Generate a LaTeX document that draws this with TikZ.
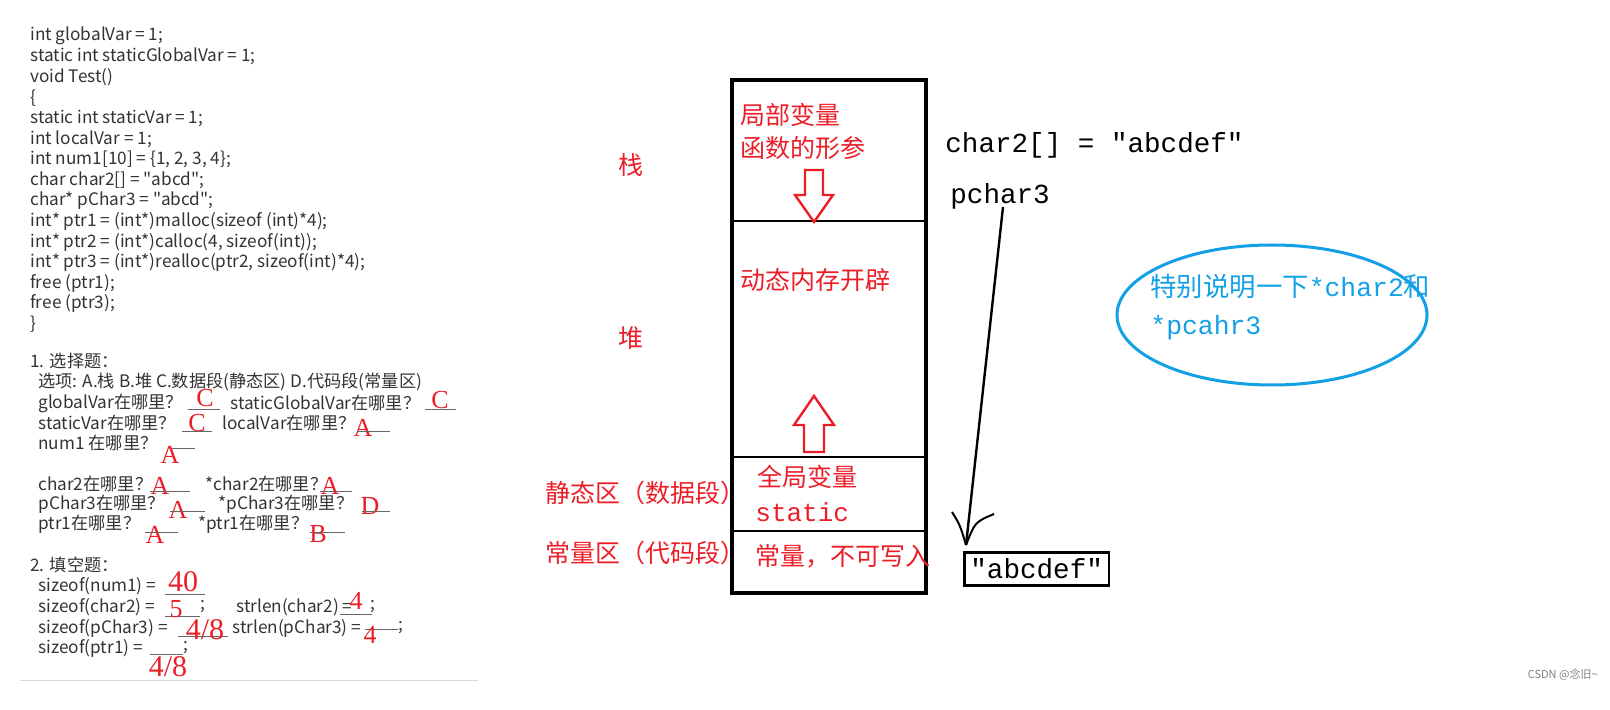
\documentclass[tikz,border=0pt]{standalone}
\usepackage{fontspec}
\setmainfont{Noto Sans CJK SC}
\newfontfamily\cjk{Noto Sans CJK SC}
\newfontfamily\hand{Liberation Serif}
\newfontfamily\mono{Liberation Mono}
\definecolor{hred}{RGB}{235,30,40}
\definecolor{hblue}{RGB}{20,160,230}
\begin{document}
\begin{tikzpicture}[x=0.5pt,y=-0.5pt,
  code/.style={anchor=west,inner sep=0,font=\cjk\fontsize{8.6}{9}\selectfont,text=black!80},
  ans/.style={inner sep=0,font=\hand\fontsize{13}{14}\selectfont,text=hred},
  rt/.style={anchor=west,inner sep=0,font=\cjk\fontsize{12.5}{14}\selectfont,text=hred},
  bk/.style={anchor=west,inner sep=0,font=\mono\fontsize{13.8}{15}\selectfont,text=black},
  hollow/.style={draw=hred,line width=1.2pt,fill=white}]
\useasboundingbox (0,0) rectangle (1610,710);
% code
\foreach \t [count=\i from 0] in {int globalVar = 1;,static int staticGlobalVar = 1;,void Test(),\{,static int staticVar = 1;,int localVar = 1;,{int num1[10] = \{1, 2, 3, 4\};},char char2[] = "abcd";,char* pChar3 = "abcd";,int* ptr1 = (int*)malloc(sizeof (int)*4);,{int* ptr2 = (int*)calloc(4, sizeof(int));},{int* ptr3 = (int*)realloc(ptr2, sizeof(int)*4);},free (ptr1);,free (ptr3);,\}}
  \node[code] (c\i) at (30,{36+20.6*\i}) {\t};
\node[code] (q1) at (30,361) {1. 选择题：};
\node[code] (q2) at (38,382) {选项: A.栈 B.堆 C.数据段(静态区) D.代码段(常量区)};
\node[code] (q3) at (38,403) {globalVar在哪里？};
\node[code] (q3b) at (230,403) {staticGlobalVar在哪里？};
\node[code] (q4) at (38,423) {staticVar在哪里？};
\node[code] (q4b) at (222,423) {localVar在哪里？};
\node[code] (q5) at (38,443) {num1 在哪里？};
\node[code] (q6) at (38,484) {char2在哪里？};
\node[code] (q6b) at (205,484) {*char2在哪里？};
\node[code] (q7) at (38,504) {pChar3在哪里？};
\node[code] (q7b) at (218,504) {*pChar3在哪里？};
\node[code] (q8) at (38,524) {ptr1在哪里？};
\node[code] (q8b) at (198,524) {*ptr1在哪里？};
\node[code] (q9) at (30,565) {2. 填空题：};
\node[code] (q10) at (38,586) {sizeof(num1) =};
\node[code] (q11) at (38,607) {sizeof(char2) =};
\node[code] (q11b) at (200,607) {;};
\node[code] (q11c) at (236,607) {strlen(char2) =};
\node[code] (q11d) at (370,607) {;};
\node[code] (q12) at (38,628) {sizeof(pChar3) =};
\node[code] (q12b) at (232,628) {strlen(pChar3) =};
\node[code] (q12c) at (398,628) {;};
\node[code] (q13) at (38,648) {sizeof(ptr1) =};
\node[code] (q13b) at (183,648) {;};
\foreach \x/\y/\l in {205/398/C,440/400/C,197/423/C,363/428/A,170/455/A,160/486/A,330/486/A,178/510/A,370/506/D,155/535/A,318/534/B}
  \node[ans] at (\x,\y) {\l};
\foreach \a/\b/\y in {188/220/409,425/456/409,182/212/431,357/390/431,172/195/448,150/190/491,320/352/491,170/205/511,362/390/511,145/178/532,310/345/532,165/205/594,165/200/616,340/372/614,178/228/636,365/398/629,150/183/654}
  \draw[black!60,line width=0.4pt] (\a,\y) -- (\b,\y);
\node[ans,font=\hand\fontsize{15}{16}\selectfont] at (183,582) {40};
\node[ans] at (176,609) {5};
\node[ans] at (356,601) {4};
\node[ans,font=\hand\fontsize{15}{16}\selectfont] at (205,630) {4/8};
\node[ans] at (370,635) {4};
\node[ans,font=\hand\fontsize{15}{16}\selectfont] at (168,667) {4/8};
\draw[black!15] (20,680) -- (478,680);
% memory box
\draw[line width=1.6pt] (732,80) rectangle (926,593);
\draw[line width=1.3pt] (732,221) -- (926,221) (732,457) -- (926,457) (732,531) -- (926,531);
\node[rt] (s1) at (740,115) {局部变量};
\node[rt] (s2) at (740,148) {函数的形参};
\node[rt] (stk) at (618,165) {栈};
\node[rt] (h1) at (740,280) {动态内存开辟};
\node[rt] (hp) at (618,338) {堆};
\node[rt] (st) at (545,493) {静态区（数据段）};
\node[rt] (g1) at (757,477) {全局变量};
\node[rt,font=\mono\fontsize{13}{14}\selectfont] (g2) at (755,512) {static};
\node[rt] (k1) at (545,553) {常量区（代码段）};
\node[rt] (k2) at (755,556) {常量，不可写入};
\draw[hollow] (805,170) -- (823,170) -- (823,195) -- (833,195) -- (814,222) -- (795,195) -- (805,195) -- cycle;
\draw[hollow] (804,452) -- (824,452) -- (824,425) -- (834,425) -- (814,396) -- (794,425) -- (804,425) -- cycle;
% right
\node[bk] (c2) at (945,145) {char2[] = "abcdef"};
\node[bk] (p3) at (950,196) {pchar3};
\node[bk,draw,line width=1.4pt,inner xsep=3pt,inner ysep=3pt] (ab) at (963,569) {"abcdef"};
\coordinate (t) at (966,545);
\draw[line width=1.2pt] (1003,207) -- (t);
\draw[line width=1pt] (952,512) .. controls (960,525) .. (t);
\draw[line width=1pt] (994,514) .. controls (975,522) .. (t);
\draw[hblue,line width=1.5pt] (1272,315) ellipse (155 and 70);
\node[rt,text=hblue,font=\cjk\fontsize{13.2}{15}\selectfont] (n1) at (1150,287) {特别说明一下\mono *char2\cjk 和};
\node[rt,text=hblue,font=\mono\fontsize{13.2}{15}\selectfont] (n2) at (1150,328) {*pcahr3};
\node[anchor=east,inner sep=0,font=\cjk\fontsize{5.5}{6}\selectfont,text=black!50] (wm) at (1598,675) {CSDN @念旧\textasciitilde};
\end{tikzpicture}
\end{document}
